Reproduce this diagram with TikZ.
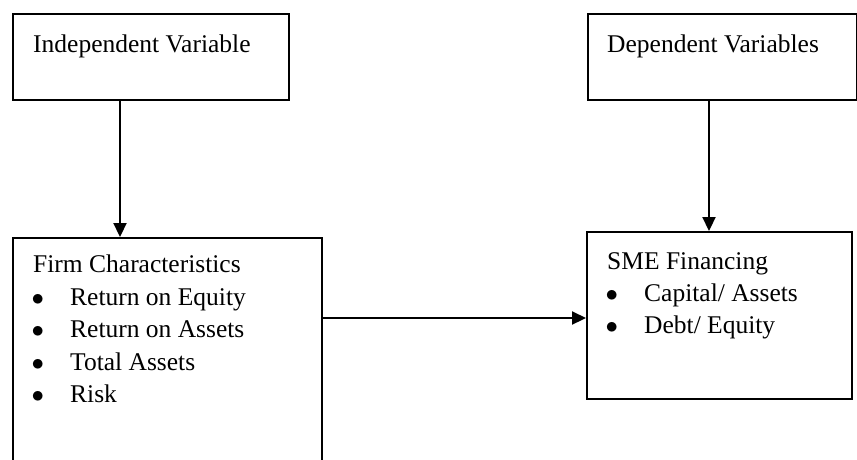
\documentclass[tikz,border=0pt]{standalone}
\usepackage{fontspec}
\setmainfont{Liberation Serif}
\usetikzlibrary{arrows.meta}
\tikzset{
	box/.style={draw, line width=2pt, anchor=north west, inner sep=0pt},
	txt/.style={anchor=base west, inner sep=0pt, font=\fontsize{25.5}{32.5}\selectfont},
	arr/.style={-{Triangle[length=14pt,width=13pt]}, line width=2.2pt}
}
\newcommand{\bul}[1]{\makebox[37pt][l]{\hspace*{-1.5pt}$\bullet$}#1}
\begin{document}
\begin{tikzpicture}[x=1pt,y=-1pt]
	\useasboundingbox (0,0) rectangle (857,459);
	% boxes
	\node[box, minimum width=276pt, minimum height=86pt] (iv) at (12,13) {};
	\node[box, minimum width=269pt, minimum height=86pt] (dv) at (587,13) {};
	\node[box, minimum width=309pt, minimum height=240pt] (firm) at (12,237) {};
	\node[box, minimum width=265pt, minimum height=167pt] (sme) at (586,231) {};
	% texts
	\node[txt] (ivlabel) at (33,52.7) {Independent Variable};
	\node[txt] (dvlabel) at (607,52.5) {Dependent Variables};
	\node[txt] (firmlabel) at (33,272.7) {Firm Characteristics};
	\foreach \entry [count=\i] in {Return on Equity, Return on Assets, Total Assets, Risk}
		\node[txt] (firmitem\i) at (33,272.7+32.5*\i) {\bul{\entry}};
	\node[txt] (smelabel) at (607,269) {SME Financing};
	\foreach \entry [count=\i] in {Capital/ Assets, Debt/ Equity}
		\node[txt] (smeitem\i) at (607,269+32*\i) {\bul{\entry}};
	% arrows
	\draw[arr] ([xshift=-31pt]iv.south) -- ([xshift=-31pt]iv.south |- firm.north);
	\draw[arr] ([xshift=-13.5pt]dv.south) -- ([xshift=-13.5pt]dv.south |- sme.north);
	\draw[arr] ([yshift=-81pt]firm.north east) -- ([yshift=-81pt]firm.north east -| sme.west);
\end{tikzpicture}
\end{document}
